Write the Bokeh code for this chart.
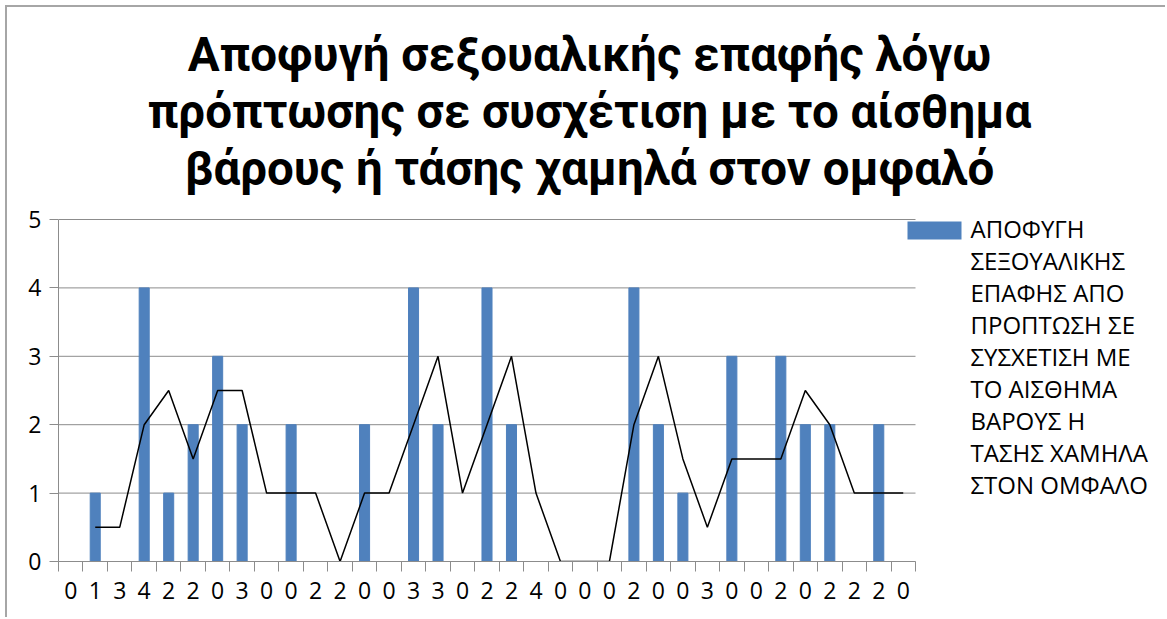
from bokeh.plotting import figure
from bokeh.models import Range1d, FixedTicker
from bokeh.core.properties import value
from bokeh.embed import file_html
from bokeh.resources import INLINE

# Category labels along the x axis (one per column)
categories = ["0", "1", "3", "4", "2", "2", "0", "3", "0", "0", "2", "2", "0", "0",
              "3", "3", "0", "2", "2", "4", "0", "0", "0", "2", "0", "0",
              "3", "0", "0", "2", "0", "2", "2", "2", "0"]

# Avoidance of sexual contact per respondent
responses = [0, 1, 0, 4, 1, 2, 3, 2, 0, 2, 0, 0, 2, 0,
             4, 2, 0, 4, 2, 0, 0, 0, 0, 4, 2, 1,
             0, 3, 0, 3, 2, 2, 0, 2, 0]

# Two-point moving trend, starting at the second column
trend = [0.5, 0.5, 2, 2.5, 1.5, 2.5, 2.5, 1, 1, 1, 0, 1, 1,
         2, 3, 1, 2, 3, 1, 0, 0, 0, 2, 3, 1.5,
         0.5, 1.5, 1.5, 1.5, 2.5, 2, 1, 1, 1]

y_ticks = [0, 1, 2, 3, 4, 5]

title_lines = ["Αποφυγή σεξουαλικής επαφής λόγω",
               "πρόπτωσης σε συσχέτιση με το αίσθημα",
               "βάρους ή τάσης χαμηλά στον ομφαλό"]

legend_lines = ["ΑΠΟΦΥΓΗ", "ΣΕΞΟΥΑΛΙΚΗΣ", "ΕΠΑΦΗΣ ΑΠΟ", "ΠΡΟΠΤΩΣΗ ΣΕ",
                "ΣΥΣΧΕΤΙΣΗ ΜΕ", "ΤΟ ΑΙΣΘΗΜΑ", "ΒΑΡΟΥΣ Η", "ΤΑΣΗΣ ΧΑΜΗΛΑ",
                "ΣΤΟΝ ΟΜΦΑΛΟ"]

BAR_COLOR = "#4f81bd"
GRID_COLOR = "#8c8c8c"
FONT = "Open Sans"
TITLE_FONT = "Roboto"

n = len(categories)
xs = list(range(n))
y_max = max(y_ticks)

# page geometry (the figure sits 7px in from the top-left page corner)
OFF = 7
W, H = 1167 - OFF, 619 - OFF
PLOT_LEFT, PLOT_RIGHT, PLOT_TOP, PLOT_BOTTOM = 58, 915, 219, 561

px_x = (PLOT_RIGHT - PLOT_LEFT) / n
px_y = (PLOT_BOTTOM - PLOT_TOP) / y_max


def dx(page_x):
    return (page_x - PLOT_LEFT) / px_x - 0.5


def dy(page_y):
    return (PLOT_BOTTOM - page_y) / px_y


# the frame spans the title and legend area too; axes and grid stop at the data area
p = figure(width=W, height=H,
           x_range=Range1d(-0.5, dx(1167)), y_range=Range1d(0, dy(OFF)),
           output_backend="svg", toolbar_location=None,
           min_border_left=PLOT_LEFT - OFF, min_border_right=0,
           min_border_top=0, min_border_bottom=619 - PLOT_BOTTOM)
p.title.text = ""
p.outline_line_color = None
p.background_fill_color = "white"
p.border_fill_color = "white"
p.styles = {"margin-left": "5px", "margin-top": "5px",
            "border-left": "2px solid #a6a6a6", "border-top": "2px solid #a6a6a6"}

# horizontal gridlines over the data area only
p.xgrid.visible = False
p.ygrid.visible = False
p.segment(x0=[-0.5] * len(y_ticks), x1=[n - 0.5] * len(y_ticks), y0=y_ticks, y1=y_ticks,
          line_color=GRID_COLOR, line_width=1)

p.vbar(x=xs, top=responses, width=0.41, color=BAR_COLOR)
p.line(x=xs[1:], y=trend, color="black", line_width=1.5)

# y axis
p.yaxis.ticker = FixedTicker(ticks=y_ticks)
p.yaxis.bounds = (0, y_max)
p.yaxis.axis_line_color = GRID_COLOR
p.yaxis.major_tick_line_color = GRID_COLOR
p.yaxis.major_tick_out = 9
p.yaxis.major_tick_in = 0
p.yaxis.minor_tick_line_color = None
p.yaxis.major_label_standoff = 8
p.yaxis.major_label_text_font = FONT
p.yaxis.major_label_text_font_size = "23px"
p.yaxis.major_label_text_color = "black"

# x axis: labels at column centres, ticks on column boundaries
p.xaxis.ticker = FixedTicker(ticks=xs, minor_ticks=[i - 0.5 for i in range(n + 1)])
p.xaxis.bounds = (-0.5, n - 0.5)
p.xaxis.major_label_overrides = {i: lab for i, lab in zip(xs, categories)}
p.xaxis.axis_line_color = GRID_COLOR
p.xaxis.major_tick_line_color = None
p.xaxis.major_tick_out = 10
p.xaxis.major_tick_in = 0
p.xaxis.minor_tick_line_color = GRID_COLOR
p.xaxis.minor_tick_out = 10
p.xaxis.minor_tick_in = 0
p.xaxis.major_label_standoff = 10
p.xaxis.major_label_text_font = FONT
p.xaxis.major_label_text_font_size = "23px"
p.xaxis.major_label_text_color = "black"

# title, three centred lines (anchor sits slightly above the drawn baseline)
title_anchor = [54 + 57 * k for k in range(len(title_lines))]
p.text(x=[dx(589)] * len(title_lines), y=[dy(b) for b in title_anchor],
       text=title_lines, text_align="center", text_baseline="alphabetic",
       text_font=value(TITLE_FONT), text_font_style="bold",
       text_font_size="47.5px", text_color="black")

# legend: swatch plus wrapped label
legend_anchor = [228 + 32 * k for k in range(len(legend_lines))]
p.quad(left=[dx(907)], right=[dx(961)], top=[dy(221)], bottom=[dy(239)],
       fill_color=BAR_COLOR, line_color=None)
p.text(x=[dx(970)] * len(legend_lines), y=[dy(b) for b in legend_anchor],
       text=legend_lines, text_align="left", text_baseline="alphabetic",
       text_font=value(FONT), text_font_size="24px", text_color="black")

open("out.html", "w").write(file_html(p, INLINE))
